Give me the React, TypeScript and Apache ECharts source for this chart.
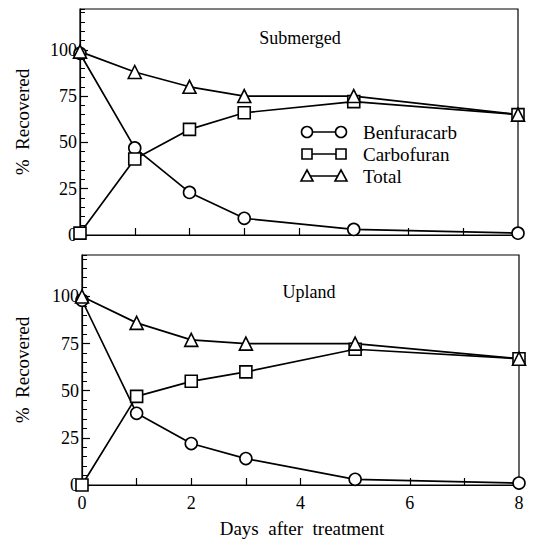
import React, { useEffect, useRef } from "react";
import * as echarts from "echarts";

const days = [0, 1, 2, 3, 5, 8];
const submergedBenfuracarb = [98, 47, 23, 9, 3, 1];
const submergedCarbofuran = [1, 41, 57, 66, 72, 65];
const submergedTotal = [99, 88, 80, 75, 75, 65];
const uplandBenfuracarb = [98, 38, 22, 14, 3, 1];
const uplandCarbofuran = [0, 47, 55, 60, 72, 67];
const uplandTotal = [100, 86, 77, 75, 75, 67];

const seriesNames = ["Benfuracarb", "Carbofuran", "Total"];
const symbols = ["circle", "rect", "triangle"];
const panelTitles = ["Submerged", "Upland"];
const yLabelValues = [0, 25, 50, 75, 100];
const xLabelValues = [0, 2, 4, 6, 8];

const FONT = "Liberation Serif";

export default function App() {
  const ref = useRef<HTMLDivElement>(null);
  useEffect(() => {
    if (!ref.current) return;
    const chart = echarts.init(ref.current, null, { renderer: "svg" });

    const grids = [
      { left: 80, top: 9, width: 438, height: 226 },
      { left: 82, top: 255, width: 437, height: 230 },
    ];

    const panels = [
      [submergedBenfuracarb, submergedCarbofuran, submergedTotal],
      [uplandBenfuracarb, uplandCarbofuran, uplandTotal],
    ];

    const xAxis: any[] = grids.map((_, i) => ({
      type: "value",
      gridIndex: i,
      position: "bottom",
      min: 0,
      max: 8,
      interval: 1,
      axisLine: { show: true, lineStyle: { color: "#000", width: 1.2 } },
      axisTick: { show: true, inside: true, length: 7, lineStyle: { color: "#000", width: 1.2 } },
      axisLabel: {
        show: i === 1,
        customValues: xLabelValues,
        color: "#000",
        fontFamily: FONT,
        fontSize: 18,
        margin: 9,
      },
      splitLine: { show: false },
    }));

    const yAxis: any[] = [];
    grids.forEach((_, i) => {
      yAxis.push({
        type: "value",
        gridIndex: i,
        position: "left",
        min: 0,
        max: 122,
        interval: 5,
        axisLine: { show: true, lineStyle: { color: "#000", width: 1.2 } },
        axisTick: { show: true, inside: true, length: 5, lineStyle: { color: "#000", width: 1 } },
        axisLabel: { show: false },
        splitLine: { show: false },
      });
      yAxis.push({
        type: "value",
        gridIndex: i,
        position: "left",
        min: 0,
        max: 122,
        axisLine: { show: false },
        axisTick: { show: true, inside: true, length: 8, lineStyle: { color: "#000", width: 1.2 }, customValues: yLabelValues },
        axisLabel: {
          show: true,
          customValues: yLabelValues,
          color: "#000",
          fontFamily: FONT,
          fontSize: 18,
          margin: 3,
        },
        splitLine: { show: false },
      });
    });

    const series: any[] = [];
    panels.forEach((vals, p) => {
      vals.forEach((arr, s) => {
        series.push({
          type: "line",
          name: seriesNames[s] + " " + panelTitles[p],
          xAxisIndex: p,
          yAxisIndex: p * 2 + 1,
          data: days.map((d, k) => [d, arr[k]]),
          symbol: symbols[s],
          symbolSize: s === 2 ? 13 : 12,
          showSymbol: true,
          lineStyle: { color: "#000", width: 1.7 },
          itemStyle: { color: "#fff", borderColor: "#000", borderWidth: 1.6 },
          z: 3,
        });
      });
    });

    const txt = (text: string, size: number, extra: any = {}) => ({
      text,
      fill: "#000",
      fontFamily: FONT,
      fontSize: size,
      align: "center",
      verticalAlign: "middle",
      ...extra,
    });

    const legendRows = [132, 154, 176];
    const legendGraphics: any[] = [];
    legendRows.forEach((y, i) => {
      legendGraphics.push({
        type: "line",
        shape: { x1: 307, y1: y, x2: 341, y2: y },
        style: { stroke: "#000", lineWidth: 1.5 },
        z: 10,
      });
      [307, 341].forEach((cx) => {
        if (i === 0) {
          legendGraphics.push({ type: "circle", shape: { cx, cy: y, r: 5.5 }, style: { fill: "#fff", stroke: "#000", lineWidth: 1.6 }, z: 11 });
        } else if (i === 1) {
          legendGraphics.push({ type: "rect", shape: { x: cx - 5, y: y - 5, width: 10, height: 10 }, style: { fill: "#fff", stroke: "#000", lineWidth: 1.6 }, z: 11 });
        } else {
          legendGraphics.push({
            type: "polygon",
            shape: { points: [[cx, y - 6], [cx + 6, y + 5], [cx - 6, y + 5]] },
            style: { fill: "#fff", stroke: "#000", lineWidth: 1.6 },
            z: 11,
          });
        }
      });
      legendGraphics.push({
        type: "text",
        x: 363,
        y,
        style: txt(seriesNames[i], 19, { align: "left" }),
        z: 11,
      });
    });

    const option: any = {
      animation: false,
      backgroundColor: "#fff",
      textStyle: { fontFamily: FONT },
      grid: grids.map((g) => ({ ...g, show: true, borderColor: "#000", borderWidth: 1.2, backgroundColor: "transparent" })),
      xAxis,
      yAxis,
      series,
      graphic: [
        { type: "text", x: 300, y: 38, style: txt(panelTitles[0], 18) },
        { type: "text", x: 309, y: 292, style: txt(panelTitles[1], 18) },
        { type: "text", x: 22, y: 122, rotation: Math.PI / 2, style: txt("%  Recovered", 19) },
        { type: "text", x: 22, y: 370, rotation: Math.PI / 2, style: txt("%  Recovered", 19) },
        { type: "text", x: 302, y: 528, style: txt("Days  after  treatment", 19) },
        ...legendGraphics,
      ],
    };
    chart.setOption(option);
    return () => chart.dispose();
  }, []);
  return <div ref={ref} style={{ position: "fixed", left: 0, top: 0, width: 535, height: 545, background: "#fff" }} />;
}
